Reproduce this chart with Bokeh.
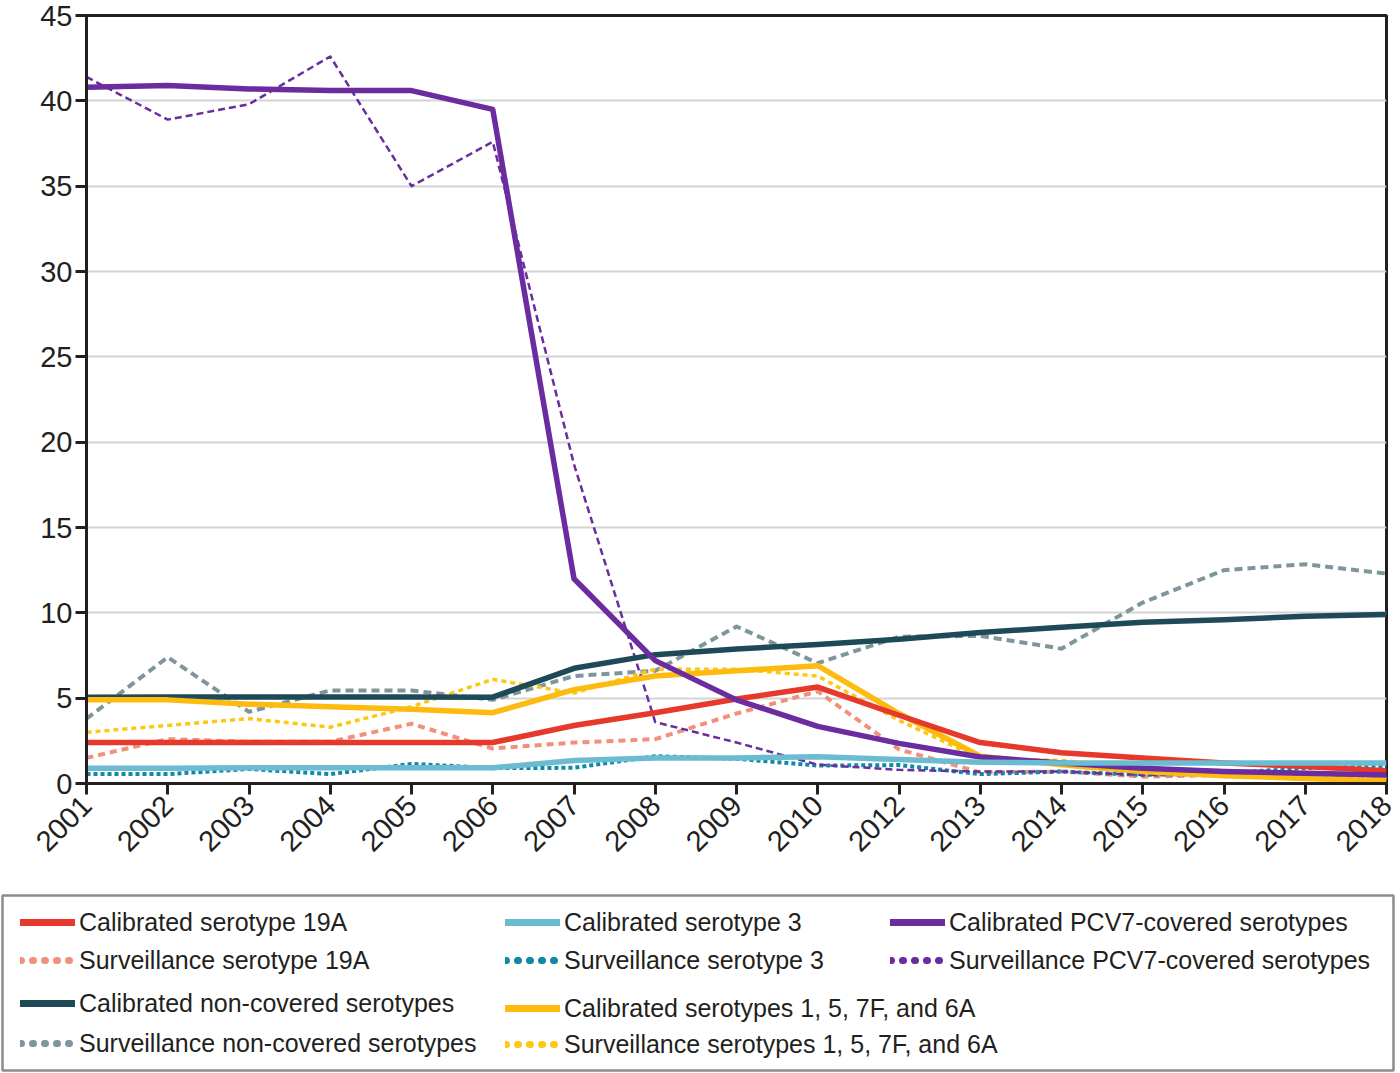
import math

from bokeh.embed import file_html
from bokeh.models import ColumnDataSource, FixedTicker, Legend, LegendItem, Range1d
from bokeh.plotting import figure
from bokeh.resources import INLINE

years = ["2001", "2002", "2003", "2004", "2005", "2006", "2007", "2008", "2009",
         "2010", "2012", "2013", "2014", "2015", "2016", "2017", "2018"]
y_ticks = [0, 5, 10, 15, 20, 25, 30, 35, 40, 45]

cal_19a = [2.4, 2.4, 2.4, 2.4, 2.4, 2.4, 3.4, 4.15, 4.95, 5.65, 4.0, 2.4, 1.8, 1.5, 1.2, 1.0, 0.75]
sur_19a = [1.5, 2.6, 2.45, 2.45, 3.5, 2.05, 2.4, 2.6, 4.1, 5.4, 2.0, 0.65, 0.7, 0.4, 0.5, 0.4, 0.35]
cal_3 = [0.9, 0.9, 0.92, 0.92, 0.92, 0.92, 1.35, 1.5, 1.5, 1.57, 1.4, 1.25, 1.2, 1.2, 1.2, 1.2, 1.2]
sur_3 = [0.55, 0.55, 0.85, 0.55, 1.15, 0.9, 0.92, 1.6, 1.45, 1.05, 1.08, 0.55, 0.7, 0.5, 0.6, 0.9, 1.0]
cal_nc = [5.05, 5.07, 5.07, 5.07, 5.07, 5.06, 6.75, 7.55, 7.88, 8.15, 8.45, 8.85, 9.15, 9.45, 9.6, 9.8, 9.9]
sur_nc = [3.8, 7.4, 4.2, 5.45, 5.45, 4.9, 6.3, 6.6, 9.2, 7.05, 8.6, 8.65, 7.9, 10.6, 12.5, 12.85, 12.3]
cal_1576 = [4.9, 4.9, 4.65, 4.5, 4.35, 4.15, 5.5, 6.3, 6.6, 6.9, 4.1, 1.6, 1.1, 0.7, 0.45, 0.3, 0.15]
sur_1576 = [3.0, 3.4, 3.8, 3.3, 4.5, 6.1, 5.3, 6.7, 6.7, 6.3, 3.7, 1.45, 1.35, 0.9, 0.75, 0.45, 0.3]
cal_pcv7 = [40.8, 40.9, 40.7, 40.6, 40.6, 39.5, 12.0, 7.2, 4.9, 3.35, 2.35, 1.55, 1.2, 0.9, 0.7, 0.6, 0.5]
sur_pcv7 = [41.4, 38.9, 39.8, 42.6, 35.0, 37.6, 18.7, 3.6, 2.4, 1.1, 0.8, 0.7, 0.7, 0.5, 0.5, 0.5, 0.7]

FONT = "Liberation Sans"
INK = "#231f20"

xs = list(range(len(years)))
src = ColumnDataSource(dict(x=xs, cal_19a=cal_19a, sur_19a=sur_19a, cal_3=cal_3, sur_3=sur_3,
                            cal_nc=cal_nc, sur_nc=sur_nc, cal_1576=cal_1576, sur_1576=sur_1576,
                            cal_pcv7=cal_pcv7, sur_pcv7=sur_pcv7))

# (column, label, colour, width, dash)
series = [
    ("sur_nc", "Surveillance non-covered serotypes", "#7f959c", 4, "8 5"),
    ("sur_19a", "Surveillance serotype 19A", "#f1917c", 4, "7 5"),
    ("sur_1576", "Surveillance serotypes 1, 5, 7F, and 6A", "#fcc812", 3.5, "5 4"),
    ("sur_3", "Surveillance serotype 3", "#0e8aa6", 4, "4 3"),
    ("sur_pcv7", "Surveillance PCV7-covered serotypes", "#6a2c9f", 2.5, "7 4"),
    ("cal_nc", "Calibrated non-covered serotypes", "#1e4a57", 5.5, "solid"),
    ("cal_1576", "Calibrated serotypes 1, 5, 7F, and 6A", "#fdbb10", 5.5, "solid"),
    ("cal_19a", "Calibrated serotype 19A", "#e6392b", 5.5, "solid"),
    ("cal_pcv7", "Calibrated PCV7-covered serotypes", "#6a2c9f", 5.5, "solid"),
    ("cal_3", "Calibrated serotype 3", "#6bbcd1", 5.5, "solid"),
]

p = figure(width=1400, height=890, x_range=Range1d(0, 16), y_range=Range1d(0, 45),
           output_backend="svg", toolbar_location=None,
           min_border_left=86, min_border_right=14, min_border_top=15, min_border_bottom=107)

for col, label, color, width, dash in series:
    p.line("x", col, source=src, line_color=color, line_width=width, line_dash=dash,
           line_join="round")

p.xaxis.ticker = FixedTicker(ticks=xs)
p.xaxis.major_label_overrides = {i: y for i, y in enumerate(years)}
p.xaxis.major_label_orientation = math.pi / 4
p.yaxis.ticker = FixedTicker(ticks=y_ticks)
p.axis.axis_line_width = 3
p.axis.axis_line_color = INK
p.axis.major_tick_line_width = 3
p.axis.major_tick_line_color = INK
p.axis.major_tick_out = 11
p.axis.major_tick_in = 0
p.axis.minor_tick_line_color = None
p.axis.major_label_text_font = FONT
p.axis.major_label_text_font_size = "29px"
p.axis.major_label_text_color = INK
p.axis.major_label_standoff = 3
p.xaxis.major_label_standoff = 6
p.xgrid.visible = False
p.ygrid.grid_line_color = "#d4d4d4"
p.ygrid.grid_line_width = 2
p.outline_line_color = INK
p.outline_line_width = 3
p.outline_line_alpha = 1

# legend panel: a second figure whose view is kept away from the data,
# so only the legend glyphs of these copies show
lg = figure(width=1400, height=182, x_range=Range1d(0, 16), y_range=Range1d(-20, -10),
            output_backend="svg", toolbar_location=None,
            min_border_left=2, min_border_right=7, min_border_top=5, min_border_bottom=2)
lg.axis.visible = False
lg.grid.visible = False
lg.outline_line_color = "#8c8c8c"
lg.outline_line_width = 2.5

proxies = {}
for col, label, color, width, dash in series:
    if dash == "solid":
        r = lg.line("x", col, source=src, line_color=color, line_width=7, line_cap="round")
    else:
        r = lg.line("x", col, source=src, line_color=color, line_width=7,
                    line_dash="1 11", line_cap="round")
    proxies[col] = (label, r)


def add_group(cols, loc, spacing):
    items = [LegendItem(label=proxies[c][0], renderers=[proxies[c][1]]) for c in cols]
    leg = Legend(items=items, location=loc, spacing=spacing, padding=0, margin=0,
                 glyph_width=55, glyph_height=30, label_height=30, label_standoff=4,
                 label_text_font=FONT, label_text_font_size="25px", label_text_color=INK,
                 border_line_alpha=0, background_fill_alpha=0)
    lg.add_layout(leg, "center")


add_group(["cal_19a", "sur_19a"], (18, 95), 8)
add_group(["cal_nc", "sur_nc"], (18, 12), 10)
add_group(["cal_3", "sur_3"], (503, 95), 8)
add_group(["cal_1576", "sur_1576"], (503, 11), 6)
add_group(["cal_pcv7", "sur_pcv7"], (888, 95), 8)

open("out.html", "w").write(file_html((p, lg), INLINE))
